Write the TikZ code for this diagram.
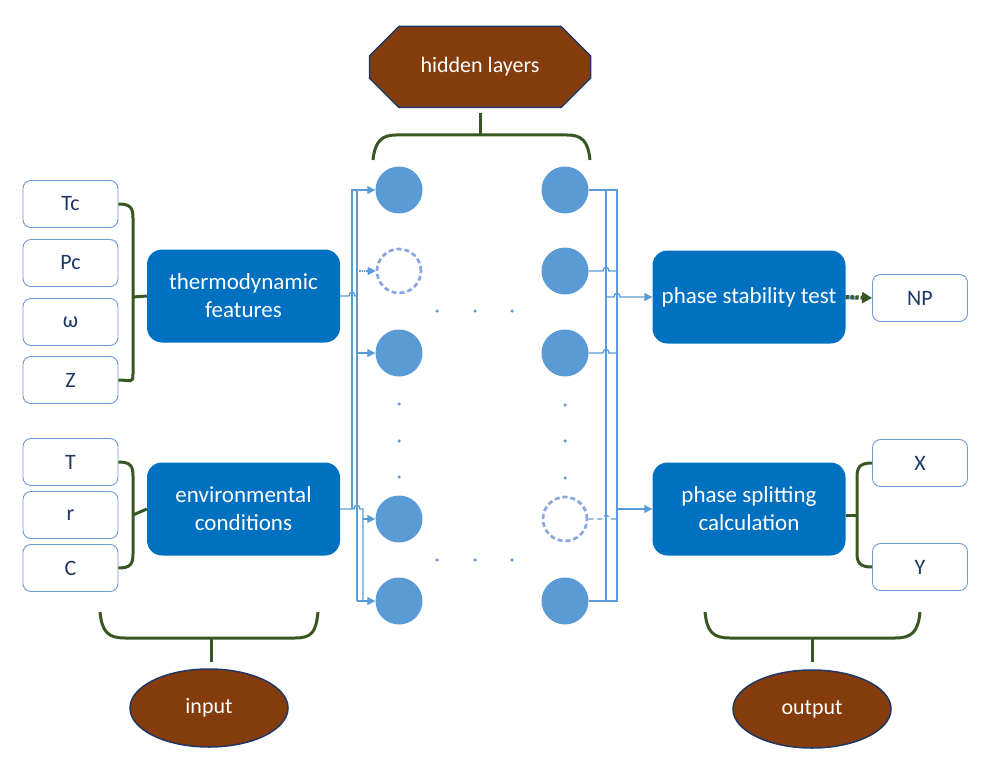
\documentclass[tikz,border=0pt]{standalone}
\usepackage{fontspec}
\setmainfont{Carlito}
\usetikzlibrary{arrows.meta,shapes.misc,shapes.geometric}

\definecolor{featblue}{HTML}{0070C0}
\definecolor{unitblue}{HTML}{5B9BD5}
\definecolor{ghostblue}{HTML}{8AA6DC}
\definecolor{bracegreen}{HTML}{385723}
\definecolor{tagbrown}{HTML}{843C0C}
\definecolor{tagnavy}{HTML}{1F3864}
\definecolor{varline}{HTML}{6F9BD1}

\begin{document}
\begin{tikzpicture}[x=1pt,y=-1pt,
    varbox/.style={draw=varline,line width=0.9pt,fill=white,rounded corners=8pt,
      minimum width=95pt,minimum height=47pt,text=tagnavy,font=\fontsize{22}{26}\selectfont},
    featbox/.style={fill=featblue,rounded corners=15pt,minimum width=193pt,minimum height=93pt,
      text=white,align=center,font=\fontsize{23}{28}\selectfont},
    unit/.style={circle,fill=unitblue,minimum size=47pt,inner sep=0pt},
    ghost/.style={circle,draw=ghostblue,line width=2.7pt,dash pattern=on 5pt off 3pt,
      fill=white,minimum size=44pt,inner sep=0pt},
    wire/.style={draw=unitblue,line width=1.3pt},
    brace/.style={draw=bracegreen,line width=3pt},
    tag/.style={fill=tagbrown,draw=tagnavy,line width=1.5pt,text=white,
      font=\fontsize{22}{26}\selectfont},
    dotunit/.style={circle,fill=unitblue,inner sep=0pt,minimum size=3.5pt},
    >={Triangle[length=8pt,width=8pt]}]
  \useasboundingbox (0,0) rectangle (985,762);

  % input variables
  \node[varbox] (tc) at (70.5,204) {Tc};
  \node[varbox] (pc) at (70.5,263) {Pc};
  \node[varbox] (om) at (70.5,322) {ω};
  \node[varbox] (zf) at (70.5,380) {Z};
  \node[varbox] (tt) at (70.5,462) {T};
  \node[varbox] (rr) at (70.5,515) {r};
  \node[varbox] (cc) at (70.5,568) {C};

  \node[featbox] (thermo) at (243.5,296) {thermodynamic\\features};
  \node[featbox] (env) at (243.5,509) {environmental\\conditions};

  % hidden units
  \node[unit] (h1) at (399,190) {};
  \node[ghost] (h2) at (399,271) {};
  \node[unit] (h3) at (399,353) {};
  \node[unit] (h5) at (399,519) {};
  \node[unit] (h6) at (399,601) {};

  \node[unit] (g1) at (565,190) {};
  \node[unit] (g2) at (565,271) {};
  \node[unit] (g3) at (565,353) {};
  \node[ghost] (g5) at (565,519) {};
  \node[unit] (g6) at (565,601) {};

  \node[dotunit] (d1) at (437,311) {};
  \node[dotunit] (d2) at (475,311) {};
  \node[dotunit] (d3) at (512,311) {};
  \node[dotunit] (d4) at (437,560) {};
  \node[dotunit] (d5) at (475,560) {};
  \node[dotunit] (d6) at (512,560) {};
  \node[dotunit] (d7) at (399,404) {};
  \node[dotunit] (d8) at (399,441) {};
  \node[dotunit] (d9) at (399,477) {};
  \node[dotunit] (d10) at (565,405) {};
  \node[dotunit] (d11) at (565,441) {};
  \node[dotunit] (d12) at (565,478) {};

  % outputs
  \node[featbox] (stab) at (749,297) {phase stability test};
  \node[featbox] (split) at (749,509) {phase splitting\\calculation};
  \node[varbox] (np) at (920,298) {NP};
  \node[varbox] (xo) at (920,463) {X};
  \node[varbox] (yo) at (920,567) {Y};

  % labels
  \node[tag,chamfered rectangle,chamfered rectangle xsep=22pt,chamfered rectangle ysep=20pt,
    minimum width=221pt,minimum height=81pt,inner sep=0pt] (hidden) at (480,67) {hidden layers};
  \node[tag,ellipse,minimum width=158pt,minimum height=78pt] (input) at (209,708) {input};
  \node[tag,ellipse,minimum width=158pt,minimum height=78pt] (output) at (812,709) {output};

  % braces
  \draw[brace] (tc.east) .. controls +(12,0) and +(0,-10) .. (133,218) -- (133,374)
    .. controls +(0,10) and +(12,0) .. (zf.east);
  \draw[brace] (133,297) -- (thermo.west);
  \draw[brace] (tt.east) .. controls +(12,0) and +(0,-10) .. (133,476) -- (133,554)
    .. controls +(0,10) and +(12,0) .. (cc.east);
  \draw[brace] (133,515) -- (env.west);
  \draw[brace] (xo.west) .. controls +(-12,0) and +(0,-10) .. (857,477) -- (857,553)
    .. controls +(0,10) and +(-12,0) .. (yo.west);
  \draw[brace] (857,515) -- (845.5,515);

  \coordinate (inbrace) at (211,638);
  \coordinate (hidbrace) at (480,135);
  \coordinate (outbrace) at (812,638);
  \draw[brace] (100,612) .. controls (102,632) and (108,638) .. (125,638) -- (295,638)
    .. controls (312,638) and (316,632) .. (318,612);
  \draw[brace] (inbrace) -- (211,662);
  \draw[brace] (373,160) .. controls (375,141) and (382,135) .. (396,135) -- (567,135)
    .. controls (582,135) and (588,141) .. (590,160);
  \draw[brace] (hidbrace) -- (480,113);
  \draw[brace] (705,612) .. controls (707,632) and (713,638) .. (730,638) -- (895,638)
    .. controls (912,638) and (918,632) .. (920,612);
  \draw[brace] (outbrace) -- (812,662);

  % wires into the hidden layers
  \draw[wire,->] (352,509) -- (352,190) -- (h1.west);
  \draw[wire] (357,190) -- (357,601);
  \draw[wire] (thermo.east) -- (349,296) .. controls (349,291) and (355,291) .. (355,296) -- (357,296);
  \draw[wire,densely dotted,line width=1.6pt,->] (357,271) -- (h2.west);
  \draw[wire,->] (357,353) -- (h3.west);
  \draw[wire] (env.east) -- (354,509) .. controls (354,504) and (360,504) .. (360,509) -- (363,509) -- (363,601);
  \draw[wire,->] (363,519) -- (h5.west);
  \draw[wire,->] (357,601) -- (h6.west);

  % wires out of the hidden layers
  \draw[wire] (g1.east) -- (617,190) -- (617,601) -- (g6.east);
  \draw[wire] (606,190) -- (606,601);
  \draw[wire] (g2.east) -- (603,271) .. controls (603,266) and (609,266) .. (609,271) -- (617,271);
  \draw[wire] (g3.east) -- (603,353) .. controls (603,348) and (609,348) .. (609,353) -- (617,353);
  \draw[wire,dash pattern=on 5pt off 4pt] (g5.east) -- (603,519) .. controls (603,514) and (609,514) .. (609,519) -- (617,519);
  \draw[wire,->] (606,297) -- (614,297) .. controls (614,292) and (620,292) .. (620,297) -- (stab.west);
  \draw[wire,->] (617,509) -- (split.west);

  \draw[draw=varline,line width=4pt] (stab.east) -- (858,298);
  \draw[draw=bracegreen,line width=4pt,dash pattern=on 3pt off 2pt,-{Triangle[length=10pt,width=11pt]}]
    (stab.east) -- (np.west);
\end{tikzpicture}
\end{document}
